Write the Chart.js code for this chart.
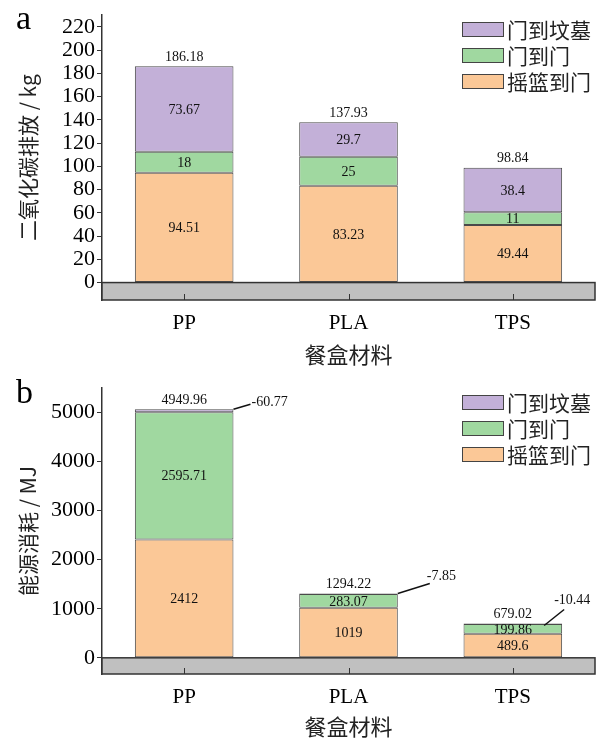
<!DOCTYPE html>
<html>
<head>
<meta charset="utf-8">
<script src="https://cdn.jsdelivr.net/npm/chart.js@4.4.0/dist/chart.umd.min.js"></script>
<style>
  html, body { margin: 0; padding: 0; background: #fff; }
  .box { position: absolute; left: 0; width: 599px; }
  #boxA { top: 0; height: 370px; }
  #boxB { top: 370px; height: 369px; }
</style>
</head>
<body>
<div class="box" id="boxA"><canvas id="chartA"></canvas></div>
<div class="box" id="boxB"><canvas id="chartB"></canvas></div>
<script>
// categories and series
const categories = ["PP", "PLA", "TPS"];
const seriesNames = ["摇篮到门", "门到门", "门到坟墓"];

// a: CO2 emission (kg)
const co2CradleGate = [94.51, 83.23, 49.44];
const co2GateGate = [18, 25, 11];
const co2GateGrave = [73.67, 29.7, 38.4];
const co2Totals = [186.18, 137.93, 98.84];
const co2Ticks = [0, 20, 40, 60, 80, 100, 120, 140, 160, 180, 200, 220];

// b: energy use (MJ)
const energyCradleGate = [2412, 1019, 489.6];
const energyGateGate = [2595.71, 283.07, 199.86];
const energyGateGrave = [-60.77, -7.85, -10.44];
const energyTotals = [4949.96, 1294.22, 679.02];
const energyTicks = [0, 1000, 2000, 3000, 4000, 5000];

const colors = ["#fbc897", "#a0d8a0", "#c3b0d8"];
const SERIF = "'Liberation Serif', 'Times New Roman', serif";
const CJK = "'Noto Sans CJK SC', sans-serif";

// leader lines for the negative gate-to-grave values in b (offsets from bar top-right corner)
const leaders = [
  { from: [0, 0], to: [17, -5], text: [18, -7] },
  { from: [0, 0], to: [32, -10], text: [29, -17] },
  { from: [-18, 2], to: [2, -14], text: [-8, -23] }
];

const bandPlugin = {
  id: "band",
  beforeDatasetsDraw(chart) {
    const { ctx, chartArea: a, scales: { x, y } } = chart;
    const y0 = y.getPixelForValue(0);
    ctx.save();
    ctx.fillStyle = "#c0c0c0";
    ctx.fillRect(a.left, y0, a.right - a.left, a.bottom - y0);
    ctx.strokeStyle = "#333";
    ctx.lineWidth = 1.5;
    ctx.strokeRect(a.left, y0, a.right - a.left, a.bottom - y0);
    ctx.lineWidth = 1;
    x.ticks.forEach((t, i) => {
      const px = Math.round(x.getPixelForTick(i)) + 0.5;
      ctx.beginPath();
      ctx.moveTo(px, a.bottom);
      ctx.lineTo(px, a.bottom - 6);
      ctx.stroke();
    });
    ctx.restore();
  }
};

const labelPlugin = {
  id: "segLabels",
  afterDatasetsDraw(chart, args, opts) {
    const ctx = chart.ctx;
    ctx.save();
    ctx.font = "14px " + SERIF;
    ctx.fillStyle = "#111";
    ctx.textAlign = "center";
    ctx.textBaseline = "middle";
    const tops = [];
    chart.data.datasets.forEach((ds, i) => {
      const meta = chart.getDatasetMeta(i);
      meta.data.forEach((el, j) => {
        tops[j] = Math.min(tops[j] ?? Infinity, el.y);
        if (opts.inside[i]) {
          ctx.fillText(String(opts.values[i][j]), el.x, (el.y + el.base) / 2 + 1);
        }
      });
    });
    const topMeta = chart.getDatasetMeta(chart.data.datasets.length - 1);
    topMeta.data.forEach((el, j) => {
      ctx.fillText(String(opts.totals[j]), el.x, tops[j] - 9);
      if (opts.negatives) {
        const L = opts.leaders[j];
        const rx = el.x + el.width / 2, ty = el.y;
        ctx.strokeStyle = "#111";
        ctx.lineWidth = 1.5;
        ctx.beginPath();
        ctx.moveTo(rx + L.from[0], ty + L.from[1]);
        ctx.lineTo(rx + L.to[0], ty + L.to[1]);
        ctx.stroke();
        ctx.textAlign = "left";
        ctx.fillText(String(opts.negatives[j]), rx + L.text[0], ty + L.text[1]);
        ctx.textAlign = "center";
      }
    });
    ctx.restore();
  }
};

const legendPlugin = {
  id: "boxLegend",
  afterDraw(chart, args, opts) {
    const ctx = chart.ctx;
    ctx.save();
    ctx.font = "21px " + CJK;
    ctx.textBaseline = "middle";
    ctx.textAlign = "left";
    const order = [2, 1, 0];
    order.forEach((k, r) => {
      const cy = opts.y + r * opts.step;
      ctx.fillStyle = colors[k];
      ctx.fillRect(opts.x, cy - 7, 41, 14);
      ctx.strokeStyle = "#444";
      ctx.lineWidth = 1;
      ctx.strokeRect(opts.x + 0.5, cy - 7 + 0.5, 41, 14);
      ctx.fillStyle = "#222";
      ctx.fillText(seriesNames[k], opts.x + 45, cy + 1);
    });
    ctx.font = "34px " + SERIF;
    ctx.fillStyle = "#000";
    ctx.textBaseline = "alphabetic";
    ctx.fillText(opts.letter, 16, opts.letterY);
    ctx.restore();
  }
};

function makeChart(id, cfg) {
  const datasets = cfg.series.map((vals, i) => ({
    label: seriesNames[i],
    data: vals.map(v => Math.abs(v)),
    backgroundColor: colors[i],
    borderColor: "#4a4a4a",
    borderWidth: 1,
    borderSkipped: false,
    barPercentage: 0.6,
    categoryPercentage: 1.0
  }));
  return new Chart(document.getElementById(id), {
    type: "bar",
    data: { labels: categories, datasets },
    plugins: [bandPlugin, labelPlugin, legendPlugin],
    options: {
      responsive: true,
      maintainAspectRatio: false,
      animation: false,
      layout: { padding: { top: cfg.padTop, right: 4, left: 0, bottom: 0 } },
      plugins: {
        legend: { display: false },
        tooltip: { enabled: false },
        segLabels: {
          inside: cfg.inside,
          values: cfg.series,
          totals: cfg.totals,
          negatives: cfg.negatives,
          leaders: leaders
        },
        boxLegend: { x: 462, y: cfg.legendY, step: 26, letter: cfg.letter, letterY: cfg.letterY }
      },
      scales: {
        x: {
          stacked: true,
          grid: { display: false, drawTicks: false },
          border: { display: false },
          ticks: { color: "#000", font: { family: SERIF, size: 21 }, padding: 11 },
          title: {
            display: true, text: "餐盒材料", color: "#222",
            font: { family: CJK, size: 22, lineHeight: 1 },
            padding: { top: 0, bottom: cfg.xTitlePad }
          },
          afterFit: s => { s.height = cfg.xHeight; }
        },
        y: {
          stacked: true,
          min: cfg.min,
          max: cfg.max,
          afterBuildTicks: s => { s.ticks = cfg.ticks.map(v => ({ value: v })); },
          grid: { drawOnChartArea: false, drawTicks: true, tickLength: 5, color: "#333" },
          border: { display: true, color: "#333", width: 1.5 },
          ticks: {
            color: "#000", font: { family: SERIF, size: 22 }, padding: 2,
            autoSkip: false, callback: v => String(v)
          },
          title: {
            display: true, text: cfg.yTitle, color: "#222",
            font: { family: CJK, size: 21 },
            padding: { top: 15, bottom: 0 }
          },
          afterFit: s => { s.width = 102; }
        }
      }
    }
  });
}

makeChart("chartA", {
  series: [co2CradleGate, co2GateGate, co2GateGrave],
  inside: [true, true, true],
  totals: co2Totals,
  negatives: null,
  min: -15, max: 230, ticks: co2Ticks,
  yTitle: "二氧化碳排放 / kg",
  padTop: 13, xHeight: 70, xTitlePad: 4,
  legendY: 29, letter: "a", letterY: 29
});

makeChart("chartB", {
  series: [energyCradleGate, energyGateGate, energyGateGrave],
  inside: [true, true, false],
  totals: energyTotals,
  negatives: energyGateGrave,
  min: -330, max: 5500, ticks: energyTicks,
  yTitle: "能源消耗 / MJ",
  padTop: 18, xHeight: 65, xTitlePad: 1,
  legendY: 32, letter: "b", letterY: 33
});
</script>
</body>
</html>
